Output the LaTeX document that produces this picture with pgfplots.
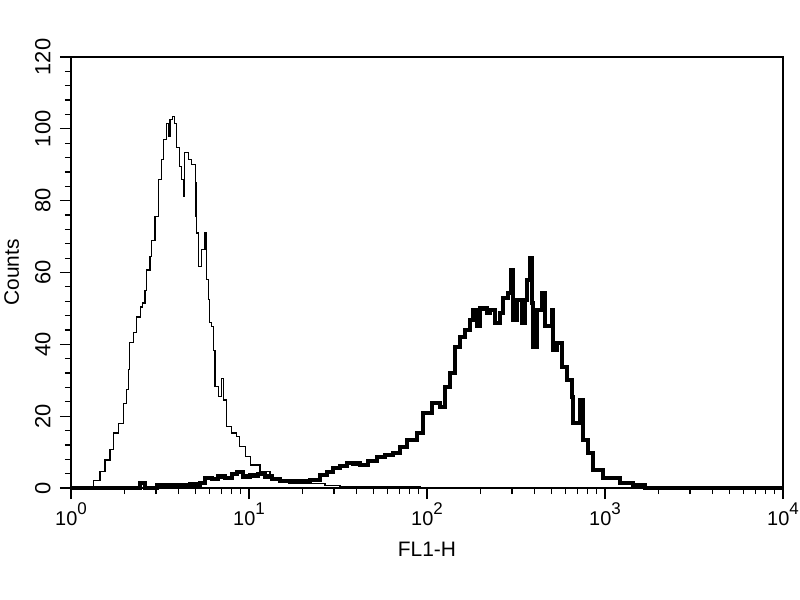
\documentclass[border=0pt]{standalone}
\usepackage{fontspec}
\setmainfont{Liberation Sans}
\usepackage{pgfplots}
\pgfplotsset{compat=1.18}

% decade label: 10 with a large raised exponent, as in the cytometer output
\newcommand\dec[1]{10\raisebox{0.55em}{\fontsize{17}{17}\selectfont #1}}

\begin{document}
\begin{tikzpicture}[x=1bp,y=1bp]
    \begin{axis}[
            scale only axis,
            width=712bp,
            height=431bp,
            xmin=0, xmax=4,
            ymin=0, ymax=120,
            axis line style={line width=1.6bp},
            tick align=outside,
            tick pos=left,
            major tick length=11bp,
            minor tick length=6bp,
            every tick/.style={black, line width=1.2bp},
            xtick={0,1,2,3,4},
            xticklabels={\dec{0},\dec{1},\dec{2},\dec{3},\dec{4}},
            minor xtick={0.30103,0.47712,0.60206,0.69897,0.77815,0.84510,0.90309,0.95424,
                    1.30103,1.47712,1.60206,1.69897,1.77815,1.84510,1.90309,1.95424,
                    2.30103,2.47712,2.60206,2.69897,2.77815,2.84510,2.90309,2.95424,
                    3.30103,3.47712,3.60206,3.69897,3.77815,3.84510,3.90309,3.95424},
            ytick={0,20,40,60,80,100,120},
            minor y tick num=4,
            tick label style={font=\fontsize{20}{20}\selectfont},
            yticklabel style={rotate=90, anchor=south, font=\fontsize{22}{22}\selectfont},
            yticklabel shift=6bp,
            yticklabel={\pgfmathprintnumber[fixed,precision=0]{\tick}},
            /pgf/number format/assume math mode=true,
            xlabel={FL1-H},
            ylabel={Counts},
            label style={font=\fontsize{21}{21}\selectfont},
            xlabel style={yshift=-10bp},
            ylabel style={yshift=9bp},
            clip=false,
        ]
        % control (thin)
        \addplot [black, line width=1.1bp, const plot] table {%
                0.000 0
                0.088 0.5
                0.125 2.2
                0.163 4.5
                0.191 7.8
                0.219 10.6
                0.238 15.3
                0.266 18
                0.294 23.6
                0.313 27.3
                0.322 32.9
                0.331 40.4
                0.350 43.2
                0.369 47.6
                0.388 50.4
                0.404 51.5
                0.416 55
                0.425 60.7
                0.444 64.4
                0.453 69
                0.472 75.6
                0.490 85.8
                0.510 91.4
                0.519 97
                0.534 101.6
                0.547 97.9
                0.556 102.5
                0.571 103.4
                0.580 101.6
                0.594 94.7
                0.608 89.5
                0.622 85.8
                0.631 81.1
                0.640 93.3
                0.659 91.4
                0.678 90
                0.697 85
                0.702 75.6
                0.706 71
                0.715 61.6
                0.734 66.3
                0.753 71
                0.762 58
                0.771 52.4
                0.778 46
                0.790 45
                0.799 38.4
                0.809 28.2
                0.828 25.4
                0.847 30.6
                0.856 24.5
                0.875 17
                0.903 15.3
                0.931 14.3
                0.949 11.5
                0.978 8.7
                1.006 6.4
                1.062 4.5
                1.118 2.8
                1.174 1.8
                1.258 1.5
                1.343 1.2
                1.427 0.8
                1.511 0.5
                1.624 0.3
                1.792 0.3
                1.961 0
                4.000 0
            };
        % stained sample (thick)
        \addplot [black, line width=4.2bp, const plot] table {%
                0.000 0
                0.360 0
                0.388 1.5
                0.416 0
                0.483 0.8
                0.584 0.8
                0.669 1
                0.725 1.5
                0.753 2.8
                0.792 2.5
                0.826 3.2
                0.865 2.8
                0.904 4
                0.933 4.5
                0.966 3.2
                1.006 3.5
                1.051 4
                1.090 3.2
                1.129 2.5
                1.174 2
                1.230 1.8
                1.287 1.8
                1.343 2.2
                1.399 3.6
                1.438 4.5
                1.472 5.6
                1.511 6.2
                1.551 7
                1.584 6.8
                1.624 6.4
                1.669 7.5
                1.719 8.7
                1.764 9.2
                1.809 9.7
                1.848 11.5
                1.888 13.4
                1.944 15.3
                1.978 20.9
                2.028 23.6
                2.073 22.6
                2.101 28.2
                2.129 32
                2.157 39.3
                2.185 42.1
                2.213 44
                2.242 46.8
                2.258 49.6
                2.281 45
                2.298 50
                2.337 48.7
                2.354 49.6
                2.382 45.9
                2.410 48.7
                2.427 52.8
                2.455 54.3
                2.472 60.7
                2.483 46.8
                2.506 52.4
                2.534 45.9
                2.551 52.4
                2.562 58
                2.579 64
                2.590 51.5
                2.596 39.3
                2.618 49.6
                2.646 54.3
                2.663 45
                2.702 49.6
                2.708 38.4
                2.730 40.4
                2.758 33.7
                2.787 30
                2.815 25.4
                2.820 18
                2.860 24.5
                2.876 13.4
                2.904 9.7
                2.933 5
                2.989 2.8
                3.084 1.4
                3.157 0.8
                3.225 0
                4.000 0
            };
    \end{axis}
    \pgfresetboundingbox
    \path[use as bounding box] (-71bp,-112bp) rectangle (729bp,488bp);
\end{tikzpicture}
\end{document}
